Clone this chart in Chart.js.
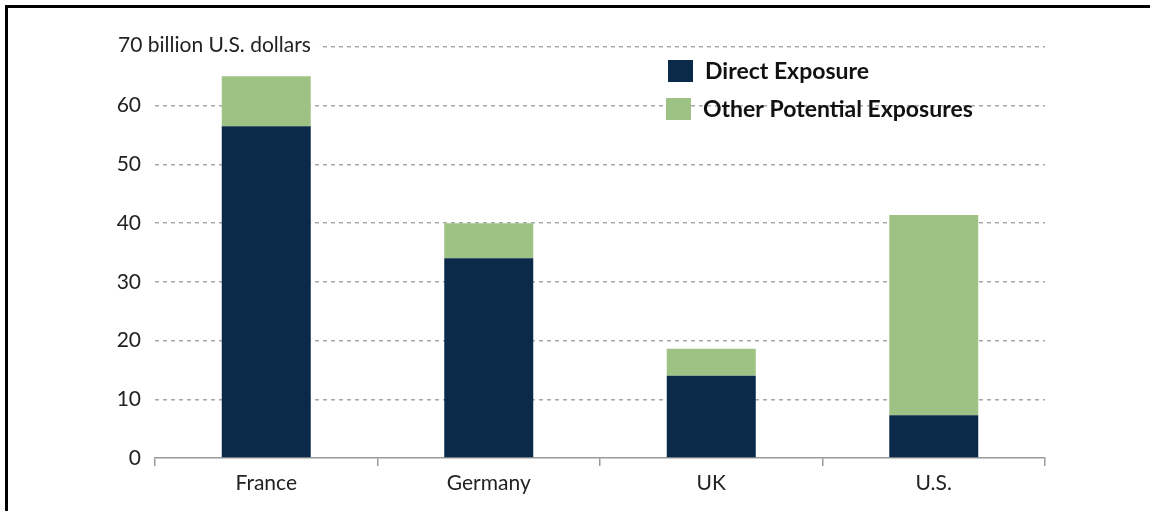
<!DOCTYPE html>
<html>
<head>
<meta charset="utf-8">
<script src="https://cdn.jsdelivr.net/npm/chart.js@4.4.1/dist/chart.umd.min.js"></script>
<style>
    html, body { margin: 0; padding: 0; background: #fff; }
    #wrap { position: relative; width: 1150px; height: 511px; overflow: hidden; }
    #frame { position: absolute; left: 5px; top: 5px; width: 1200px; height: 600px;
             border-top: 3px solid #000; border-left: 3px solid #000; box-sizing: border-box; }
    canvas { position: absolute; left: 0; top: 0; }
</style>
</head>
<body>
<div id="wrap">
    <div id="frame"></div>
    <canvas id="chart" width="1150" height="511"></canvas>
</div>
<script>
// data
const countries = ['France', 'Germany', 'UK', 'U.S.']
const directExposure = [56.5, 34, 14, 7.3]
const otherExposure = [8.5, 6, 4.6, 34.1]
const yTicks = [0, 10, 20, 30, 40, 50, 60, 70]
const unitLabel = 'billion U.S. dollars'

const NAVY = '#0b2a4a'
const GREEN = '#9ec284'
const FONT = 'Lato, "Open Sans", sans-serif'

// draws the legend box in the upper right and the unit label on the 70 line
const extras = {
    id: 'extras',
    afterDraw: (chart) => {
        const ctx = chart.ctx
        const y = chart.scales.y
        const top = y.getPixelForValue(yTicks[yTicks.length - 1])

        ctx.save()
        ctx.font = '21px ' + FONT
        ctx.textBaseline = 'middle'
        const text = yTicks[yTicks.length - 1] + ' ' + unitLabel
        const w = ctx.measureText(text).width
        ctx.fillStyle = '#fff'
        ctx.fillRect(116, top - 12, w + 10, 24)
        ctx.fillStyle = '#222'
        ctx.fillText(text, 118, top - 2)

        // legend
        const rows = [[668, 60], [666, 98]]
        ctx.font = 'bold 23px ' + FONT
        chart.data.datasets.forEach((ds, i) => {
            const [bx, by] = rows[i]
            ctx.fillStyle = ds.backgroundColor
            ctx.fillRect(bx, by, 25, 22)
            ctx.fillStyle = '#111'
            ctx.fillText(ds.label, bx + 37, by + 12)
        })
        ctx.restore()
    }
}

new Chart(document.getElementById('chart'), {
    type: 'bar',
    data: {
        labels: countries,
        datasets: [
            { label: 'Direct Exposure', data: directExposure, backgroundColor: NAVY },
            { label: 'Other Potential Exposures', data: otherExposure, backgroundColor: GREEN }
        ]
    },
    options: {
        responsive: false,
        animation: false,
        layout: { padding: { left: 0, right: 105, top: 47, bottom: 0 } },
        datasets: { bar: { barPercentage: 0.4, categoryPercentage: 1 } },
        plugins: { legend: { display: false }, tooltip: { enabled: false } },
        scales: {
            x: {
                stacked: true,
                afterFit: (scale) => { scale.height = 53 },
                grid: {
                    offset: true,
                    drawOnChartArea: false,
                    drawTicks: true,
                    tickLength: 8,
                    color: '#9a9a9a',
                    lineWidth: 1.5
                },
                border: { display: true, color: '#9a9a9a', width: 1.5 },
                ticks: { color: '#222', font: { family: FONT, size: 21 }, padding: 5 }
            },
            y: {
                stacked: true,
                min: 0,
                max: 70,
                afterFit: (scale) => { scale.width = 155 },
                afterBuildTicks: (scale) => { scale.ticks = yTicks.map(v => ({ value: v })) },
                grid: {
                    drawTicks: false,
                    color: (c) => c.tick && c.tick.value === 0 ? 'rgba(0,0,0,0)' : '#a8a8a8',
                    lineWidth: 1.5
                },
                border: { display: false, dash: [4, 4] },
                ticks: {
                    color: '#222',
                    font: { family: FONT, size: 21 },
                    padding: 14,
                    callback: (v) => v === 70 ? '' : v
                }
            }
        }
    },
    plugins: [extras]
})
</script>
</body>
</html>
